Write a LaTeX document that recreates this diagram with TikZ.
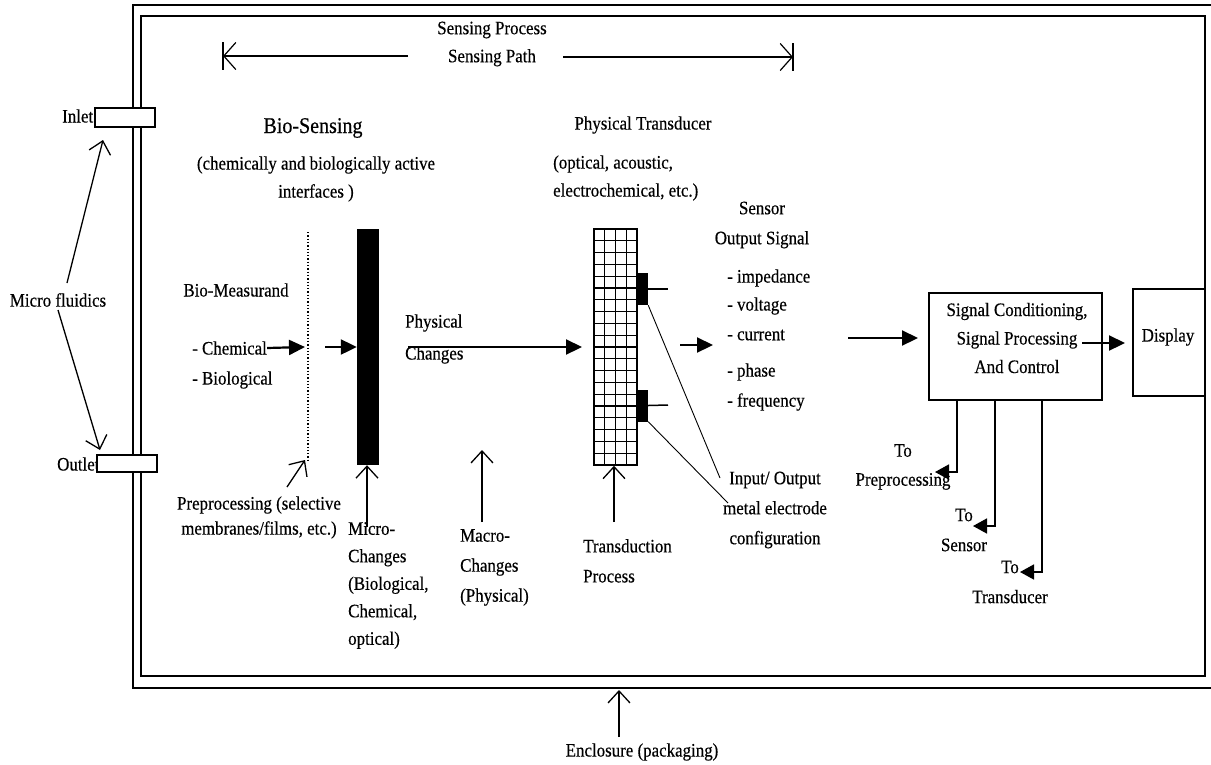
\documentclass[tikz,border=0pt]{standalone}
\usepackage{fontspec}
\setmainfont{Liberation Serif}[FakeStretch=0.89,FakeBold=0.4]
\usetikzlibrary{arrows.meta}
\begin{document}
\begin{tikzpicture}[x=1pt,y=-1pt,
  every node/.style={inner sep=0pt, font=\fontsize{19}{28}\selectfont},
  thinarr/.style={line width=1.3pt, -{Straight Barb[length=12pt,width=22pt,line width=1.3pt]}},
  patharr/.style={line width=1.2pt, -{Straight Barb[length=12pt,width=27pt,line width=1.2pt]}},
  thickarr/.style={line width=2.2pt, -{Triangle[length=16pt,width=15pt]}},
  fbarr/.style={line width=1.6pt, -{Triangle[length=14pt,width=15pt]}},
  wall/.style={line width=1.8pt},
  boxst/.style={draw, line width=1.5pt},
  padst/.style={fill=black, minimum width=11pt, minimum height=32pt}]
\useasboundingbox (0,0) rectangle (1211,764);

% enclosure
\draw[wall] (133,5) rectangle (1212,688);
\draw[wall] (141,16) rectangle (1205,676);

% sensing path
\node[align=center] (sp) at (492,44) {Sensing Process\\Sensing Path};
\coordinate (spl1) at (408,56);
\coordinate (spl) at (223,56);
\coordinate (spr1) at (563,57);
\coordinate (spr) at (793,57);
\draw[patharr] (spl1) -- (spl);
\draw[patharr] (spr1) -- (spr);
\draw[line width=1.2pt] (223,42) -- (223,70);
\draw[line width=1.2pt] (793,43) -- (793,71);

% inlet / outlet
\node[anchor=west] (inlettxt) at (62,116) {Inlet};
\node[boxst, fill=white, minimum width=60pt, minimum height=19pt] (inlet) at (125,117.5) {};
\node[anchor=west] (outlettxt) at (57,464) {Outlet};
\node[boxst, fill=white, minimum width=60pt, minimum height=17pt] (outlet) at (127,463.5) {};
\node (mf) at (58,300) {Micro fluidics};
\coordinate (mfa) at (67,283);
\coordinate (mfb) at (58,310);
\coordinate (inA) at (103,140);
\coordinate (outA) at (100,450);
\draw[thinarr] (mfa) -- (inA);
\draw[thinarr] (mfb) -- (outA);

% bio-sensing
\node[font=\fontsize{22.5}{26}\selectfont] (bs) at (313,128) {Bio-Sensing};
\node[align=center] (bsi) at (316,179) {(chemically and biologically active\\interfaces )};
\node (bm) at (236,290) {Bio-Measurand};
\node[anchor=west] (chem) at (192,348) {- Chemical};
\node[anchor=west] (biol) at (192,380) {- Biological};

% preprocessing membrane (dotted)
\coordinate (dt) at (308,232);
\coordinate (db) at (308,460);
\draw[line width=1.3pt, dotted] (dt) -- (db);
\coordinate (chemtip) at (305,347);
\draw[thickarr] (chem.east) -- (chemtip);

% black bar
\node[fill=black, minimum width=22pt, minimum height=236pt] (bar) at (368,347) {};
\coordinate (barin) at (325,347);
\draw[thickarr] (barin) -- (bar.west);

% physical changes
\node[anchor=west] (pc1) at (405,323) {Physical};
\node[anchor=west] (pc2) at (405,355) {Changes};
\coordinate (pcs) at (408,347);
\coordinate (pct) at (582,347);
\draw[thickarr] (pcs) -- (pct);

% transducer grid
\node[boxst, minimum width=43pt, minimum height=236pt] (grid) at (615.5,347) {};
\foreach \i in {1,2,3} \draw[line width=1.2pt] (594+\i*10.75,229) -- (594+\i*10.75,465);
\foreach \j in {1,...,19} \draw[line width=1.2pt] (594,229+\j*11.8) -- (637,229+\j*11.8);
\node[padst] (padA) at (642.5,289) {};
\node[padst] (padB) at (642.5,405.5) {};
\coordinate (padAe) at (668,289);
\coordinate (padBe) at (668,405);
\draw[line width=1.5pt] (padA.east) -- (padAe);
\draw[line width=1.5pt] (padB.east) -- (padBe);

\node (pt) at (643,125) {Physical Transducer};
\node[anchor=west, align=left] (pto) at (553,178) {(optical, acoustic,\\electrochemical, etc.)};

% input/output
\node[align=center, font=\fontsize{19}{30}\selectfont] (io) at (775,510) {Input/ Output\\metal electrode\\configuration};
\coordinate (ioA) at (720,478);
\coordinate (ioB) at (728,503);
\draw[line width=0.9pt] (padA.south east) -- (ioA);
\draw[line width=0.9pt] (padB.south east) -- (ioB);

% sensor output
\coordinate (gs) at (680,345);
\coordinate (gt) at (713,345);
\draw[thickarr] (gs) -- (gt);
\node[align=center, font=\fontsize{19}{30}\selectfont] (so) at (762,225) {Sensor\\Output Signal};
\node[anchor=west] (s1) at (727,278) {- impedance};
\node[anchor=west] (s2) at (727,306) {- voltage};
\node[anchor=west] (s3) at (727,335) {- current};
\node[anchor=west] (s4) at (727,372) {- phase};
\node[anchor=west] (s5) at (727,402) {- frequency};

% signal conditioning
\node[boxst, minimum width=173pt, minimum height=107pt] (sc) at (1015.5,346.5) {};
\node[align=center, font=\fontsize{19}{28.5}\selectfont] (sct) at (1017,338) {Signal Conditioning,\\Signal Processing\\And Control};
\coordinate (scin) at (848,338);
\coordinate (scint) at (918,338);
\draw[thickarr] (scin) -- (scint);
\node[boxst, minimum width=72pt, minimum height=107pt] (disp) at (1169,342.5) {};
\node (dispt) at (1168,337) {Display};
\coordinate (dsrc) at (1082,343);
\coordinate (dtip) at (1125,343);
\draw[thickarr] (dsrc) -- (dtip);

% feedback
\coordinate (f1) at (957,400);
\coordinate (f1t) at (935,472);
\coordinate (f2) at (995,400);
\coordinate (f2t) at (973,526);
\coordinate (f3) at (1042,400);
\coordinate (f3t) at (1020,572);
\draw[fbarr] (f1) |- (f1t);
\draw[fbarr] (f2) |- (f2t);
\draw[fbarr] (f3) |- (f3t);
\node[align=center, font=\fontsize{19}{29}\selectfont] (tp) at (903,467) {To\\Preprocessing};
\node[align=center, font=\fontsize{19}{30}\selectfont] (ts) at (964,530) {To\\Sensor};
\node[align=center, font=\fontsize{19}{30}\selectfont] (tt) at (1010,582) {To\\Transducer};

% bottom labels
\node[align=center, font=\fontsize{19}{25}\selectfont] (pp) at (259,517.5) {Preprocessing (selective\\membranes/films, etc.)};
\coordinate (ppt) at (305,460);
\coordinate (pps) at (287,487);
\draw[thinarr] (pps) -- (ppt);

\node[anchor=north west, align=left, font=\fontsize{19}{27.5}\selectfont] (mc) at (348,522) {Micro-\\Changes\\(Biological,\\Chemical,\\optical)};
\coordinate (mcs) at (367,527);
\draw[thinarr] (mcs) -- (bar.south -| mcs);

\node[anchor=north west, align=left, font=\fontsize{19}{30}\selectfont] (mac) at (460,529) {Macro-\\Changes\\(Physical)};
\coordinate (macs) at (482,522);
\coordinate (mact) at (482,450);
\draw[thinarr] (macs) -- (mact);

\node[anchor=north west, align=left, font=\fontsize{19}{30}\selectfont] (tr) at (583,539) {Transduction\\Process};
\coordinate (trs) at (614,522);
\draw[thinarr] (trs) -- (grid.south -| trs);

\node (enc) at (642,752) {Enclosure (packaging)};
\coordinate (encs) at (619,737);
\coordinate (enct) at (619,690);
\draw[thinarr] (encs) -- (enct);
\end{tikzpicture}
\end{document}
